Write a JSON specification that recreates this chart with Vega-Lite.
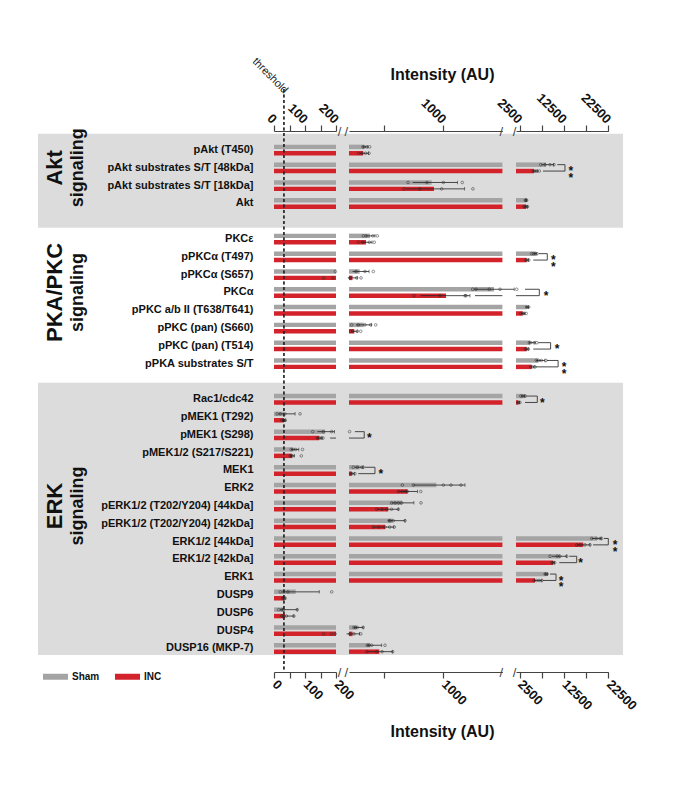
{
"$schema":"https://vega.github.io/schema/vega-lite/v6.json",
"width":585,"height":541,
"autosize":{"type":"none"},
"padding":{"left":38,"top":131,"right":66,"bottom":116},
"background":"white",
"config":{"view":{"stroke":null},"font":"Liberation Sans"},
"datasets":{
"sec":[{"s":"Akt","from":"pAkt (T450)","to":" "},{"s":"ERK","from":"Rac1/cdc42","to":"DUSP16 (MKP-7)"}],
"thr":[{"t":32}],
"bars":[
{"p":"pAkt (T450)","g":"Sham","v":330,"lo":315,"hi":360},
{"p":"pAkt (T450)","g":"INC","v":320,"lo":290,"hi":365},
{"p":"pAkt substrates S/T [48kDa]","g":"Sham","v":8460,"lo":7400,"hi":10200},
{"p":"pAkt substrates S/T [48kDa]","g":"INC","v":5760,"lo":5500,"hi":6600},
{"p":"pAkt substrates S/T [18kDa]","g":"Sham","v":900,"lo":740,"hi":1120},
{"p":"pAkt substrates S/T [18kDa]","g":"INC","v":920,"lo":680,"hi":1180},
{"p":"Akt","g":"Sham","v":3950,"lo":3800,"hi":4100},
{"p":"Akt","g":"INC","v":3950,"lo":3600,"hi":4300},
{"p":"PKCε","g":"Sham","v":378,"lo":340,"hi":420},
{"p":"PKCε","g":"INC","v":344,"lo":300,"hi":395},
{"p":"pPKCα (T497)","g":"Sham","v":6140,"lo":5600,"hi":6400},
{"p":"pPKCα (T497)","g":"INC","v":4100,"lo":3900,"hi":4500},
{"p":"pPKCα (S657)","g":"Sham","v":290,"lo":230,"hi":370},
{"p":"pPKCα (S657)","g":"INC","v":230,"lo":190,"hi":270},
{"p":"PKCα","g":"Sham","v":1429,"lo":1260,"hi":1600},
{"p":"PKCα","g":"INC","v":1022,"lo":807,"hi":1225},
{"p":"pPKC a/b II (T638/T641)","g":"Sham","v":4110,"lo":3950,"hi":4500},
{"p":"pPKC a/b II (T638/T641)","g":"INC","v":3210,"lo":2900,"hi":3700},
{"p":"pPKC (pan) (S660)","g":"Sham","v":325,"lo":260,"hi":390},
{"p":"pPKC (pan) (S660)","g":"INC","v":245,"lo":220,"hi":270},
{"p":"pPKC (pan) (T514)","g":"Sham","v":4855,"lo":4600,"hi":6000},
{"p":"pPKC (pan) (T514)","g":"INC","v":4110,"lo":3900,"hi":4500},
{"p":"pPKA substrates S/T","g":"Sham","v":6720,"lo":6200,"hi":8200},
{"p":"pPKA substrates S/T","g":"INC","v":5240,"lo":5000,"hi":5800},
{"p":"Rac1/cdc42","g":"Sham","v":3210,"lo":2900,"hi":3700},
{"p":"Rac1/cdc42","g":"INC","v":2220,"lo":2100,"hi":2500},
{"p":"pMEK1 (T292)","g":"Sham","v":32,"lo":15,"hi":68},
{"p":"pMEK1 (T292)","g":"INC","v":32,"lo":26,"hi":38},
{"p":"pMEK1 (S298)","g":"Sham","v":165,"lo":140,"hi":195},
{"p":"pMEK1 (S298)","g":"INC","v":146,"lo":138,"hi":155},
{"p":"pMEK1/2 (S217/S221)","g":"Sham","v":62,"lo":55,"hi":80},
{"p":"pMEK1/2 (S217/S221)","g":"INC","v":58,"lo":52,"hi":66},
{"p":"MEK1","g":"Sham","v":290,"lo":250,"hi":320},
{"p":"MEK1","g":"INC","v":223,"lo":210,"hi":245},
{"p":"ERK2","g":"Sham","v":940,"lo":745,"hi":1183},
{"p":"ERK2","g":"INC","v":697,"lo":620,"hi":780},
{"p":"pERK1/2 (T202/Y204) [44kDa]","g":"Sham","v":650,"lo":560,"hi":750},
{"p":"pERK1/2 (T202/Y204) [44kDa]","g":"INC","v":533,"lo":435,"hi":618},
{"p":"pERK1/2 (T202/Y204) [42kDa]","g":"Sham","v":570,"lo":530,"hi":675},
{"p":"pERK1/2 (T202/Y204) [42kDa]","g":"INC","v":505,"lo":406,"hi":580},
{"p":"ERK1/2 [44kDa]","g":"Sham","v":19890,"lo":18760,"hi":20900},
{"p":"ERK1/2 [44kDa]","g":"INC","v":16870,"lo":15380,"hi":18380},
{"p":"ERK1/2 [42kDa]","g":"Sham","v":11620,"lo":9800,"hi":13130},
{"p":"ERK1/2 [42kDa]","g":"INC","v":10060,"lo":9800,"hi":10400},
{"p":"ERK1","g":"Sham","v":8460,"lo":8200,"hi":8800},
{"p":"ERK1","g":"INC","v":5980,"lo":5760,"hi":7500},
{"p":"DUSP9","g":"Sham","v":70,"lo":30,"hi":146},
{"p":"DUSP9","g":"INC","v":32,"lo":28,"hi":36},
{"p":"DUSP6","g":"Sham","v":30,"lo":20,"hi":75},
{"p":"DUSP6","g":"INC","v":35,"lo":25,"hi":64},
{"p":"DUSP4","g":"Sham","v":265,"lo":240,"hi":320},
{"p":"DUSP4","g":"INC","v":230,"lo":180,"hi":290},
{"p":"DUSP16 (MKP-7)","g":"Sham","v":380,"lo":350,"hi":477},
{"p":"DUSP16 (MKP-7)","g":"INC","v":457,"lo":350,"hi":570}
],
"pts":[
{"p":"pAkt (T450)","g":"Sham","v":318},{"p":"pAkt (T450)","g":"Sham","v":330},{"p":"pAkt (T450)","g":"Sham","v":350},{"p":"pAkt (T450)","g":"Sham","v":375},
{"p":"pAkt (T450)","g":"INC","v":280},{"p":"pAkt (T450)","g":"INC","v":310},{"p":"pAkt (T450)","g":"INC","v":340},{"p":"pAkt (T450)","g":"INC","v":370},
{"p":"pAkt substrates S/T [48kDa]","g":"Sham","v":7270},{"p":"pAkt substrates S/T [48kDa]","g":"Sham","v":8240},{"p":"pAkt substrates S/T [48kDa]","g":"Sham","v":9360},{"p":"pAkt substrates S/T [48kDa]","g":"Sham","v":10260},
{"p":"pAkt substrates S/T [48kDa]","g":"INC","v":5600},{"p":"pAkt substrates S/T [48kDa]","g":"INC","v":5980},{"p":"pAkt substrates S/T [48kDa]","g":"INC","v":6370},{"p":"pAkt substrates S/T [48kDa]","g":"INC","v":6960},
{"p":"pAkt substrates S/T [18kDa]","g":"Sham","v":700},{"p":"pAkt substrates S/T [18kDa]","g":"Sham","v":860},{"p":"pAkt substrates S/T [18kDa]","g":"Sham","v":1000},{"p":"pAkt substrates S/T [18kDa]","g":"Sham","v":1160},
{"p":"pAkt substrates S/T [18kDa]","g":"INC","v":665},{"p":"pAkt substrates S/T [18kDa]","g":"INC","v":800},{"p":"pAkt substrates S/T [18kDa]","g":"INC","v":985},{"p":"pAkt substrates S/T [18kDa]","g":"INC","v":1250},
{"p":"Akt","g":"Sham","v":3800},{"p":"Akt","g":"Sham","v":3950},{"p":"Akt","g":"Sham","v":4100},
{"p":"Akt","g":"INC","v":3500},{"p":"Akt","g":"INC","v":3800},{"p":"Akt","g":"INC","v":4100},{"p":"Akt","g":"INC","v":4300},
{"p":"PKCε","g":"Sham","v":321},{"p":"PKCε","g":"Sham","v":344},{"p":"PKCε","g":"Sham","v":401},{"p":"PKCε","g":"Sham","v":440},
{"p":"PKCε","g":"INC","v":279},{"p":"PKCε","g":"INC","v":316},{"p":"PKCε","g":"INC","v":372},{"p":"PKCε","g":"INC","v":414},
{"p":"pPKCα (T497)","g":"Sham","v":5200},{"p":"pPKCα (T497)","g":"Sham","v":5600},{"p":"pPKCα (T497)","g":"Sham","v":6000},{"p":"pPKCα (T497)","g":"Sham","v":6400},
{"p":"pPKCα (T497)","g":"INC","v":3900},{"p":"pPKCα (T497)","g":"INC","v":4200},{"p":"pPKCα (T497)","g":"INC","v":4600},
{"p":"pPKCα (S657)","g":"Sham","v":198},{"p":"pPKCα (S657)","g":"Sham","v":259},{"p":"pPKCα (S657)","g":"Sham","v":335},{"p":"pPKCα (S657)","g":"Sham","v":406},
{"p":"pPKCα (S657)","g":"INC","v":160},{"p":"pPKCα (S657)","g":"INC","v":190},{"p":"pPKCα (S657)","g":"INC","v":210},{"p":"pPKCα (S657)","g":"INC","v":265},{"p":"pPKCα (S657)","g":"INC","v":302},
{"p":"PKCα","g":"Sham","v":1248},{"p":"PKCα","g":"Sham","v":1276},{"p":"PKCα","g":"Sham","v":1389},{"p":"PKCα","g":"Sham","v":1480},{"p":"PKCα","g":"Sham","v":1860},
{"p":"PKCα","g":"INC","v":751},{"p":"PKCα","g":"INC","v":971},{"p":"PKCα","g":"INC","v":1183},{"p":"PKCα","g":"INC","v":1191},
{"p":"pPKC a/b II (T638/T641)","g":"Sham","v":4100},{"p":"pPKC a/b II (T638/T641)","g":"Sham","v":4300},{"p":"pPKC a/b II (T638/T641)","g":"Sham","v":4560},
{"p":"pPKC a/b II (T638/T641)","g":"INC","v":2800},{"p":"pPKC a/b II (T638/T641)","g":"INC","v":3200},{"p":"pPKC a/b II (T638/T641)","g":"INC","v":3500},{"p":"pPKC a/b II (T638/T641)","g":"INC","v":4000},
{"p":"pPKC (pan) (S660)","g":"Sham","v":223},{"p":"pPKC (pan) (S660)","g":"Sham","v":279},{"p":"pPKC (pan) (S660)","g":"Sham","v":335},{"p":"pPKC (pan) (S660)","g":"Sham","v":383},{"p":"pPKC (pan) (S660)","g":"Sham","v":426},
{"p":"pPKC (pan) (S660)","g":"INC","v":214},{"p":"pPKC (pan) (S660)","g":"INC","v":231},{"p":"pPKC (pan) (S660)","g":"INC","v":270},{"p":"pPKC (pan) (S660)","g":"INC","v":299},
{"p":"pPKC (pan) (T514)","g":"Sham","v":4700},{"p":"pPKC (pan) (T514)","g":"Sham","v":5000},{"p":"pPKC (pan) (T514)","g":"Sham","v":5800},{"p":"pPKC (pan) (T514)","g":"Sham","v":6400},
{"p":"pPKC (pan) (T514)","g":"INC","v":3800},{"p":"pPKC (pan) (T514)","g":"INC","v":4100},{"p":"pPKC (pan) (T514)","g":"INC","v":4500},
{"p":"pPKA substrates S/T","g":"Sham","v":6300},{"p":"pPKA substrates S/T","g":"Sham","v":6800},{"p":"pPKA substrates S/T","g":"Sham","v":7400},{"p":"pPKA substrates S/T","g":"Sham","v":8460},
{"p":"pPKA substrates S/T","g":"INC","v":5000},{"p":"pPKA substrates S/T","g":"INC","v":5400},{"p":"pPKA substrates S/T","g":"INC","v":5980},
{"p":"Rac1/cdc42","g":"Sham","v":2800},{"p":"Rac1/cdc42","g":"Sham","v":3200},{"p":"Rac1/cdc42","g":"Sham","v":3500},{"p":"Rac1/cdc42","g":"Sham","v":3800},
{"p":"Rac1/cdc42","g":"INC","v":2100},{"p":"Rac1/cdc42","g":"INC","v":2300},{"p":"Rac1/cdc42","g":"INC","v":2600},
{"p":"pMEK1 (T292)","g":"Sham","v":10},{"p":"pMEK1 (T292)","g":"Sham","v":20},{"p":"pMEK1 (T292)","g":"Sham","v":35},{"p":"pMEK1 (T292)","g":"Sham","v":84},
{"p":"pMEK1 (T292)","g":"INC","v":25},{"p":"pMEK1 (T292)","g":"INC","v":30},{"p":"pMEK1 (T292)","g":"INC","v":36},
{"p":"pMEK1 (S298)","g":"Sham","v":125},{"p":"pMEK1 (S298)","g":"Sham","v":159},{"p":"pMEK1 (S298)","g":"Sham","v":186},{"p":"pMEK1 (S298)","g":"Sham","v":205},
{"p":"pMEK1 (S298)","g":"INC","v":140},{"p":"pMEK1 (S298)","g":"INC","v":146},{"p":"pMEK1 (S298)","g":"INC","v":152},{"p":"pMEK1 (S298)","g":"INC","v":158},
{"p":"pMEK1/2 (S217/S221)","g":"Sham","v":55},{"p":"pMEK1/2 (S217/S221)","g":"Sham","v":62},{"p":"pMEK1/2 (S217/S221)","g":"Sham","v":70},{"p":"pMEK1/2 (S217/S221)","g":"Sham","v":92},
{"p":"pMEK1/2 (S217/S221)","g":"INC","v":52},{"p":"pMEK1/2 (S217/S221)","g":"INC","v":56},{"p":"pMEK1/2 (S217/S221)","g":"INC","v":60},{"p":"pMEK1/2 (S217/S221)","g":"INC","v":88},
{"p":"MEK1","g":"Sham","v":236},{"p":"MEK1","g":"Sham","v":270},{"p":"MEK1","g":"Sham","v":307},{"p":"MEK1","g":"Sham","v":320},
{"p":"MEK1","g":"INC","v":214},{"p":"MEK1","g":"INC","v":225},{"p":"MEK1","g":"INC","v":250},
{"p":"ERK2","g":"Sham","v":652},{"p":"ERK2","g":"Sham","v":745},{"p":"ERK2","g":"Sham","v":1000},{"p":"ERK2","g":"Sham","v":1064},{"p":"ERK2","g":"Sham","v":1149},
{"p":"ERK2","g":"INC","v":618},{"p":"ERK2","g":"INC","v":650},{"p":"ERK2","g":"INC","v":680},{"p":"ERK2","g":"INC","v":694},{"p":"ERK2","g":"INC","v":808},
{"p":"pERK1/2 (T202/Y204) [44kDa]","g":"Sham","v":561},{"p":"pERK1/2 (T202/Y204) [44kDa]","g":"Sham","v":590},{"p":"pERK1/2 (T202/Y204) [44kDa]","g":"Sham","v":618},{"p":"pERK1/2 (T202/Y204) [44kDa]","g":"Sham","v":646},{"p":"pERK1/2 (T202/Y204) [44kDa]","g":"Sham","v":810},
{"p":"pERK1/2 (T202/Y204) [44kDa]","g":"INC","v":435},{"p":"pERK1/2 (T202/Y204) [44kDa]","g":"INC","v":480},{"p":"pERK1/2 (T202/Y204) [44kDa]","g":"INC","v":519},{"p":"pERK1/2 (T202/Y204) [44kDa]","g":"INC","v":560},{"p":"pERK1/2 (T202/Y204) [44kDa]","g":"INC","v":618},
{"p":"pERK1/2 (T202/Y204) [42kDa]","g":"Sham","v":540},{"p":"pERK1/2 (T202/Y204) [42kDa]","g":"Sham","v":550},{"p":"pERK1/2 (T202/Y204) [42kDa]","g":"Sham","v":575},{"p":"pERK1/2 (T202/Y204) [42kDa]","g":"Sham","v":675},
{"p":"pERK1/2 (T202/Y204) [42kDa]","g":"INC","v":406},{"p":"pERK1/2 (T202/Y204) [42kDa]","g":"INC","v":450},{"p":"pERK1/2 (T202/Y204) [42kDa]","g":"INC","v":505},{"p":"pERK1/2 (T202/Y204) [42kDa]","g":"INC","v":545},{"p":"pERK1/2 (T202/Y204) [42kDa]","g":"INC","v":584},
{"p":"ERK1/2 [44kDa]","g":"Sham","v":18760},{"p":"ERK1/2 [44kDa]","g":"Sham","v":19890},{"p":"ERK1/2 [44kDa]","g":"Sham","v":20630},{"p":"ERK1/2 [44kDa]","g":"Sham","v":21000},
{"p":"ERK1/2 [44kDa]","g":"INC","v":15380},{"p":"ERK1/2 [44kDa]","g":"INC","v":16200},{"p":"ERK1/2 [44kDa]","g":"INC","v":17250},{"p":"ERK1/2 [44kDa]","g":"INC","v":18380},
{"p":"ERK1/2 [42kDa]","g":"Sham","v":9360},{"p":"ERK1/2 [42kDa]","g":"Sham","v":11000},{"p":"ERK1/2 [42kDa]","g":"Sham","v":11620},{"p":"ERK1/2 [42kDa]","g":"Sham","v":13130},
{"p":"ERK1/2 [42kDa]","g":"INC","v":9800},{"p":"ERK1/2 [42kDa]","g":"INC","v":10100},{"p":"ERK1/2 [42kDa]","g":"INC","v":10400},
{"p":"ERK1","g":"Sham","v":8240},{"p":"ERK1","g":"Sham","v":8460},{"p":"ERK1","g":"Sham","v":8700},
{"p":"ERK1","g":"INC","v":5760},{"p":"ERK1","g":"INC","v":6300},{"p":"ERK1","g":"INC","v":6900},{"p":"ERK1","g":"INC","v":7500},
{"p":"DUSP9","g":"Sham","v":20},{"p":"DUSP9","g":"Sham","v":30},{"p":"DUSP9","g":"Sham","v":45},{"p":"DUSP9","g":"Sham","v":186},
{"p":"DUSP9","g":"INC","v":28},{"p":"DUSP9","g":"INC","v":32},{"p":"DUSP9","g":"INC","v":36},
{"p":"DUSP6","g":"Sham","v":15},{"p":"DUSP6","g":"Sham","v":25},{"p":"DUSP6","g":"Sham","v":30},{"p":"DUSP6","g":"Sham","v":75},
{"p":"DUSP6","g":"INC","v":25},{"p":"DUSP6","g":"INC","v":30},{"p":"DUSP6","g":"INC","v":40},{"p":"DUSP6","g":"INC","v":64},
{"p":"DUSP4","g":"Sham","v":240},{"p":"DUSP4","g":"Sham","v":255},{"p":"DUSP4","g":"Sham","v":270},{"p":"DUSP4","g":"Sham","v":320},
{"p":"DUSP4","g":"INC","v":160},{"p":"DUSP4","g":"INC","v":185},{"p":"DUSP4","g":"INC","v":197},{"p":"DUSP4","g":"INC","v":208},{"p":"DUSP4","g":"INC","v":242},{"p":"DUSP4","g":"INC","v":300},
{"p":"DUSP16 (MKP-7)","g":"Sham","v":355},{"p":"DUSP16 (MKP-7)","g":"Sham","v":370},{"p":"DUSP16 (MKP-7)","g":"Sham","v":392},{"p":"DUSP16 (MKP-7)","g":"Sham","v":505},
{"p":"DUSP16 (MKP-7)","g":"INC","v":350},{"p":"DUSP16 (MKP-7)","g":"INC","v":435},{"p":"DUSP16 (MKP-7)","g":"INC","v":480},{"p":"DUSP16 (MKP-7)","g":"INC","v":570}
],
"brk":[
{"p":"pAkt substrates S/T [48kDa]","g":"Sham","x":11000,"xb":12740},
{"p":"pAkt substrates S/T [48kDa]","g":"INC","x":7780,"xb":12740},
{"p":"pPKCα (T497)","g":"Sham","x":6800,"xb":8750},
{"p":"pPKCα (T497)","g":"INC","x":5600,"xb":8750},
{"p":"PKCα","g":"Sham","x":3730,"xb":6950},
{"p":"PKCα","g":"INC","x":1268,"xb":6950},
{"p":"pPKC (pan) (T514)","g":"Sham","x":6720,"xb":9500},
{"p":"pPKC (pan) (T514)","g":"INC","x":5600,"xb":9500},
{"p":"pPKA substrates S/T","g":"Sham","x":8620,"xb":11190},
{"p":"pPKA substrates S/T","g":"INC","x":5980,"xb":11190},
{"p":"Rac1/cdc42","g":"Sham","x":4110,"xb":6500},
{"p":"Rac1/cdc42","g":"INC","x":3730,"xb":6500},
{"p":"pMEK1 (S298)","g":"Sham","x":250,"xb":329},
{"p":"pMEK1 (S298)","g":"INC","x":181,"xb":329},
{"p":"MEK1","g":"Sham","x":335,"xb":420},
{"p":"MEK1","g":"INC","x":279,"xb":420},
{"p":"ERK1/2 [44kDa]","g":"Sham","x":21530,"xb":22730},
{"p":"ERK1/2 [44kDa]","g":"INC","x":19080,"xb":22730},
{"p":"ERK1/2 [42kDa]","g":"Sham","x":13720,"xb":15380},
{"p":"ERK1/2 [42kDa]","g":"INC","x":11460,"xb":15380},
{"p":"ERK1","g":"Sham","x":9360,"xb":10720},
{"p":"ERK1","g":"INC","x":7720,"xb":10720}
],
"sig":[
{"p":"pAkt substrates S/T [48kDa]","x":14030,"s":"**"},
{"p":"pPKCα (T497)","x":10110,"s":"**"},
{"p":"PKCα","x":8460,"s":"*"},
{"p":"pPKC (pan) (T514)","x":10960,"s":"*"},
{"p":"pPKA substrates S/T","x":12520,"s":"**"},
{"p":"Rac1/cdc42","x":7630,"s":"*"},
{"p":"pMEK1 (S298)","x":372,"s":"*"},
{"p":"MEK1","x":469,"s":"*"},
{"p":"ERK1/2 [44kDa]","x":24050,"s":"**"},
{"p":"ERK1/2 [42kDa]","x":16280,"s":"*"},
{"p":"ERK1","x":11840,"s":"**"}
]
},
"resolve":{"scale":{"x":"independent","y":"independent"},"axis":{"x":"independent","y":"independent"}},
"layer":[
{"data":{"name":"sec"},"mark":{"type":"rect","color":"#dcdcdc","yOffset":-7.5,"y2Offset":6.5},
 "encoding":{"y":{"field":"from","type":"nominal","bandPosition":0,"scale":{"domain":["pAkt (T450)","pAkt substrates S/T [48kDa]","pAkt substrates S/T [18kDa]","Akt"," ","PKCε","pPKCα (T497)","pPKCα (S657)","PKCα","pPKC a/b II (T638/T641)","pPKC (pan) (S660)","pPKC (pan) (T514)","pPKA substrates S/T","  ","Rac1/cdc42","pMEK1 (T292)","pMEK1 (S298)","pMEK1/2 (S217/S221)","MEK1","ERK2","pERK1/2 (T202/Y204) [44kDa]","pERK1/2 (T202/Y204) [42kDa]","ERK1/2 [44kDa]","ERK1/2 [42kDa]","ERK1","DUSP9","DUSP6","DUSP4","DUSP16 (MKP-7)"],"paddingInner":0,"paddingOuter":0.697,"align":0.41},"axis":null},
 "y2":{"field":"to"}}},
{"encoding":{"y":{"field":"p","type":"nominal","scale":{"domain":["pAkt (T450)","pAkt substrates S/T [48kDa]","pAkt substrates S/T [18kDa]","Akt"," ","PKCε","pPKCα (T497)","pPKCα (S657)","PKCα","pPKC a/b II (T638/T641)","pPKC (pan) (S660)","pPKC (pan) (T514)","pPKA substrates S/T","  ","Rac1/cdc42","pMEK1 (T292)","pMEK1 (S298)","pMEK1/2 (S217/S221)","MEK1","ERK2","pERK1/2 (T202/Y204) [44kDa]","pERK1/2 (T202/Y204) [42kDa]","ERK1/2 [44kDa]","ERK1/2 [42kDa]","ERK1","DUSP9","DUSP6","DUSP4","DUSP16 (MKP-7)"],"paddingInner":0,"paddingOuter":0.697,"align":0.41},
  "axis":{"orient":"left","offset":-215,"ticks":false,"tickSize":0,"domain":false,"grid":false,"labelPadding":0,"labelFont":"Liberation Sans","labelFontSize":11,"labelFontWeight":"bold","labelColor":"#111","labelLimit":260,"labelOverlap":false,"labelBaseline":"middle","labelAlign":"right","title":null,"zindex":1}}},
 "layer":[
  {"data":{"name":"bars"},"mark":{"type":"bar"},
   "encoding":{"x":{"field":"v","type":"quantitative","stack":null,"scale":{"domain":[0,200],"range":[236,298],"clamp":true,"zero":false,"nice":false},
     "axis":{"orient":"bottom","values":[0,50,100,150,200],"labelExpr":"datum.value % 100 == 0 ? datum.label : ''","title":null,"grid":false,"domainColor":"#444","tickColor":"#444","domainWidth":1.2,"tickWidth":1.2,"tickSize":6,"labelFont":"Liberation Sans","labelFontSize":13,"labelFontWeight":"bold","labelColor":"#111","labelAngle":45,"labelAlign":"left","labelBaseline":"middle","labelOverlap":false,"labelFlush":false,"labelPadding":4,"format":"d","zindex":1}},
    "yOffset":{"field":"g","type":"nominal","scale":{"domain":["Sham","INC"],"paddingInner":0.3,"paddingOuter":0.54}},
    "color":{"field":"g","type":"nominal","scale":{"domain":["Sham","INC"],"range":["#a4a4a4","#d3222a"]},
     "legend":{"title":null,"orient":"none","legendX":5,"legendY":533,"direction":"horizontal","symbolType":"M-1,-0.24H1V0.24H-1Z","symbolSize":625,"symbolStrokeWidth":0,"labelFont":"Liberation Sans","labelFontSize":10,"labelFontWeight":"bold","labelColor":"#111","labelOffset":4,"columnPadding":15,"padding":0}}}},
  {"data":{"name":"brk"},"transform":[{"filter":"datum.x < 200"}],"mark":{"type":"rule","color":"#333","strokeWidth":0.9},
   "encoding":{"x":{"field":"x","type":"quantitative","scale":{"domain":[0,200],"range":[236,298],"clamp":true,"zero":false,"nice":false}},"x2":{"field":"xb"},
    "yOffset":{"field":"g","type":"nominal","scale":{"domain":["Sham","INC"],"paddingInner":0.3,"paddingOuter":0.54}}}}
 ]},
{"encoding":{"y":{"field":"p","type":"nominal","scale":{"domain":["pAkt (T450)","pAkt substrates S/T [48kDa]","pAkt substrates S/T [18kDa]","Akt"," ","PKCε","pPKCα (T497)","pPKCα (S657)","PKCα","pPKC a/b II (T638/T641)","pPKC (pan) (S660)","pPKC (pan) (T514)","pPKA substrates S/T","  ","Rac1/cdc42","pMEK1 (T292)","pMEK1 (S298)","pMEK1/2 (S217/S221)","MEK1","ERK2","pERK1/2 (T202/Y204) [44kDa]","pERK1/2 (T202/Y204) [42kDa]","ERK1/2 [44kDa]","ERK1/2 [42kDa]","ERK1","DUSP9","DUSP6","DUSP4","DUSP16 (MKP-7)"],"paddingInner":0,"paddingOuter":0.697,"align":0.41},"axis":null}},
 "layer":[
  {"data":{"name":"bars"},"transform":[{"filter":"datum.v < 200"}],"mark":{"type":"rule","color":"#222","strokeWidth":0.8},
   "encoding":{"x":{"field":"lo","type":"quantitative","scale":{"domain":[0,200],"range":[236,298],"zero":false,"nice":false},
     "axis":{"orient":"top","values":[0,50,100,150,200],"labelExpr":"datum.value % 100 == 0 ? datum.label : ''","title":null,"grid":false,"domainColor":"#444","tickColor":"#444","domainWidth":1.2,"tickWidth":1.2,"tickSize":6,"labelFont":"Liberation Sans","labelFontSize":13,"labelFontWeight":"bold","labelColor":"#111","labelAngle":45,"labelAlign":"right","labelBaseline":"middle","labelOverlap":false,"labelFlush":false,"labelPadding":4,"format":"d","zindex":1}},
    "x2":{"field":"hi"},
    "yOffset":{"field":"g","type":"nominal","scale":{"domain":["Sham","INC"],"paddingInner":0.3,"paddingOuter":0.54}}}},
  {"data":{"name":"bars"},"transform":[{"filter":"datum.v < 200"}],"mark":{"type":"tick","orient":"vertical","size":3.5,"thickness":0.8,"color":"#222"},
   "encoding":{"x":{"field":"hi","type":"quantitative","scale":{"domain":[0,200],"range":[236,298],"zero":false,"nice":false}},
    "yOffset":{"field":"g","type":"nominal","scale":{"domain":["Sham","INC"],"paddingInner":0.3,"paddingOuter":0.54}}}},
  {"data":{"name":"pts"},"transform":[{"filter":"datum.v < 200"}],"mark":{"type":"point","shape":"circle","size":7,"filled":false,"stroke":"#222","strokeWidth":0.7},
   "encoding":{"x":{"field":"v","type":"quantitative","scale":{"domain":[0,200],"range":[236,298],"zero":false,"nice":false}},
    "yOffset":{"field":"g","type":"nominal","scale":{"domain":["Sham","INC"],"paddingInner":0.3,"paddingOuter":0.54}}}}
 ]},
{"encoding":{"y":{"field":"p","type":"nominal","scale":{"domain":["pAkt (T450)","pAkt substrates S/T [48kDa]","pAkt substrates S/T [18kDa]","Akt"," ","PKCε","pPKCα (T497)","pPKCα (S657)","PKCα","pPKC a/b II (T638/T641)","pPKC (pan) (S660)","pPKC (pan) (T514)","pPKA substrates S/T","  ","Rac1/cdc42","pMEK1 (T292)","pMEK1 (S298)","pMEK1/2 (S217/S221)","MEK1","ERK2","pERK1/2 (T202/Y204) [44kDa]","pERK1/2 (T202/Y204) [42kDa]","ERK1/2 [44kDa]","ERK1/2 [42kDa]","ERK1","DUSP9","DUSP6","DUSP4","DUSP16 (MKP-7)"],"paddingInner":0,"paddingOuter":0.697,"align":0.41},
  "axis":{"orient":"left","offset":-16.5,"values":["pAkt substrates S/T [48kDa]","PKCα","pERK1/2 (T202/Y204) [44kDa]"],"bandPosition":1,"labelExpr":"datum.value == 'PKCα' ? 'PKA/PKC' : (datum.value == 'Akt' || datum.value == 'pAkt substrates S/T [48kDa]') ? 'Akt' : 'ERK'","labelAngle":270,"labelAlign":"center","labelBaseline":"middle","labelFont":"Liberation Sans","labelFontSize":22,"labelFontWeight":"bold","labelColor":"#111","ticks":false,"tickSize":0,"domain":false,"grid":false,"labelPadding":0,"title":null,"zindex":1,"labelOverlap":false,"labelBound":false}}},
 "layer":[
  {"data":{"name":"bars"},"transform":[{"filter":"datum.v > 200"}],"mark":{"type":"bar"},
   "encoding":{"x":{"field":"v","type":"quantitative","stack":null,"scale":{"domain":[200,1500],"range":[311,464.4],"clamp":true,"zero":false,"nice":false},
     "axis":{"orient":"bottom","values":[500,1000],"labelExpr":"datum.value == 1000 ? datum.label : ''","title":"Intensity (AU)","titleX":404,"titleY":59,"titleFont":"Liberation Sans","titleFontSize":16,"titleFontWeight":"bold","titleColor":"#111","titleAlign":"center","titleBaseline":"middle","titleAngle":0,"grid":false,"domainColor":"#444","tickColor":"#444","domainWidth":1.2,"tickWidth":1.2,"tickSize":6,"labelFont":"Liberation Sans","labelFontSize":13,"labelFontWeight":"bold","labelColor":"#111","labelAngle":45,"labelAlign":"left","labelBaseline":"middle","labelOverlap":false,"labelFlush":false,"labelPadding":4,"format":"d","zindex":1}},
    "yOffset":{"field":"g","type":"nominal","scale":{"domain":["Sham","INC"],"paddingInner":0.3,"paddingOuter":0.54}},
    "color":{"field":"g","type":"nominal","scale":{"domain":["Sham","INC"],"range":["#a4a4a4","#d3222a"]},
     "legend":{"title":null,"orient":"none","legendX":5,"legendY":533,"direction":"horizontal","symbolType":"M-1,-0.24H1V0.24H-1Z","symbolSize":625,"symbolStrokeWidth":0,"labelFont":"Liberation Sans","labelFontSize":10,"labelFontWeight":"bold","labelColor":"#111","labelOffset":4,"columnPadding":15,"padding":0}}}},
  {"data":{"name":"brk"},"transform":[{"filter":"datum.x < 1500 && datum.xb > 200"}],"mark":{"type":"rule","color":"#333","strokeWidth":0.9},
   "encoding":{"x":{"field":"x","type":"quantitative","scale":{"domain":[200,1500],"range":[311,464.4],"clamp":true,"zero":false,"nice":false}},"x2":{"field":"xb"},
    "yOffset":{"field":"g","type":"nominal","scale":{"domain":["Sham","INC"],"paddingInner":0.3,"paddingOuter":0.54}}}},
  {"data":{"name":"brk"},"transform":[{"filter":"datum.g == 'Sham' && datum.xb > 200 && datum.xb <= 1500"}],"mark":{"type":"rule","color":"#333","strokeWidth":0.9,"yOffset":-3.2,"y2Offset":3.2},
   "encoding":{"x":{"field":"xb","type":"quantitative","scale":{"domain":[200,1500],"range":[311,464.4],"clamp":true,"zero":false,"nice":false}},"y2":{"field":"p"}}}
 ]},
{"encoding":{"y":{"field":"p","type":"nominal","scale":{"domain":["pAkt (T450)","pAkt substrates S/T [48kDa]","pAkt substrates S/T [18kDa]","Akt"," ","PKCε","pPKCα (T497)","pPKCα (S657)","PKCα","pPKC a/b II (T638/T641)","pPKC (pan) (S660)","pPKC (pan) (T514)","pPKA substrates S/T","  ","Rac1/cdc42","pMEK1 (T292)","pMEK1 (S298)","pMEK1/2 (S217/S221)","MEK1","ERK2","pERK1/2 (T202/Y204) [44kDa]","pERK1/2 (T202/Y204) [42kDa]","ERK1/2 [44kDa]","ERK1/2 [42kDa]","ERK1","DUSP9","DUSP6","DUSP4","DUSP16 (MKP-7)"],"paddingInner":0,"paddingOuter":0.697,"align":0.41},"axis":null}},
 "layer":[
  {"data":{"name":"bars"},"transform":[{"filter":"datum.v >= 200 && datum.v < 1600"}],"mark":{"type":"rule","color":"#222","strokeWidth":0.8},
   "encoding":{"x":{"field":"lo","type":"quantitative","scale":{"domain":[200,1500],"range":[311,464.4],"zero":false,"nice":false},
     "axis":{"orient":"top","values":[500,1000],"labelExpr":"datum.value == 1000 ? datum.label : ''","title":"Intensity (AU)","titleX":404,"titleY":-57,"titleFont":"Liberation Sans","titleFontSize":16,"titleFontWeight":"bold","titleColor":"#111","titleAlign":"center","titleBaseline":"middle","titleAngle":0,"grid":false,"domainColor":"#444","tickColor":"#444","domainWidth":1.2,"tickWidth":1.2,"tickSize":6,"labelFont":"Liberation Sans","labelFontSize":13,"labelFontWeight":"bold","labelColor":"#111","labelAngle":45,"labelAlign":"right","labelBaseline":"middle","labelOverlap":false,"labelFlush":false,"labelPadding":4,"format":"d","zindex":1}},
    "x2":{"field":"hi"},
    "yOffset":{"field":"g","type":"nominal","scale":{"domain":["Sham","INC"],"paddingInner":0.3,"paddingOuter":0.54}}}},
  {"data":{"name":"bars"},"transform":[{"filter":"datum.v >= 200 && datum.v < 1600"}],"mark":{"type":"tick","orient":"vertical","size":3.5,"thickness":0.8,"color":"#222"},
   "encoding":{"x":{"field":"hi","type":"quantitative","scale":{"domain":[200,1500],"range":[311,464.4],"zero":false,"nice":false}},
    "yOffset":{"field":"g","type":"nominal","scale":{"domain":["Sham","INC"],"paddingInner":0.3,"paddingOuter":0.54}}}},
  {"data":{"name":"pts"},"transform":[{"filter":"datum.v >= 200 && datum.v < 1600"}],"mark":{"type":"point","shape":"circle","size":7,"filled":false,"stroke":"#222","strokeWidth":0.7},
   "encoding":{"x":{"field":"v","type":"quantitative","scale":{"domain":[200,1500],"range":[311,464.4],"zero":false,"nice":false}},
    "yOffset":{"field":"g","type":"nominal","scale":{"domain":["Sham","INC"],"paddingInner":0.3,"paddingOuter":0.54}}}},
  {"data":{"name":"sig"},"transform":[{"filter":"datum.x >= 200 && datum.x < 1600"}],"mark":{"type":"text","text":"*","font":"Liberation Sans","fontSize":12,"fontWeight":"bold","color":"#111","align":"center","baseline":"middle","dy":3.5},
   "encoding":{"x":{"field":"x","type":"quantitative","scale":{"domain":[200,1500],"range":[311,464.4],"zero":false,"nice":false}}}}
 ]},
{"encoding":{"y":{"field":"p","type":"nominal","scale":{"domain":["pAkt (T450)","pAkt substrates S/T [48kDa]","pAkt substrates S/T [18kDa]","Akt"," ","PKCε","pPKCα (T497)","pPKCα (S657)","PKCα","pPKC a/b II (T638/T641)","pPKC (pan) (S660)","pPKC (pan) (T514)","pPKA substrates S/T","  ","Rac1/cdc42","pMEK1 (T292)","pMEK1 (S298)","pMEK1/2 (S217/S221)","MEK1","ERK2","pERK1/2 (T202/Y204) [44kDa]","pERK1/2 (T202/Y204) [42kDa]","ERK1/2 [44kDa]","ERK1/2 [42kDa]","ERK1","DUSP9","DUSP6","DUSP4","DUSP16 (MKP-7)"],"paddingInner":0,"paddingOuter":0.697,"align":0.41},
  "axis":{"orient":"left","offset":-39,"values":["pAkt substrates S/T [48kDa]","PKCα","pERK1/2 (T202/Y204) [44kDa]"],"bandPosition":1,"labelExpr":"'signaling'","labelAngle":270,"labelAlign":"center","labelBaseline":"middle","labelFont":"Liberation Sans","labelFontSize":18,"labelFontWeight":"bold","labelColor":"#111","ticks":false,"tickSize":0,"domain":false,"grid":false,"labelPadding":0,"title":null,"zindex":1,"labelOverlap":false,"labelBound":false}}},
 "layer":[
  {"data":{"name":"bars"},"transform":[{"filter":"datum.v > 1700"}],"mark":{"type":"bar"},
   "encoding":{"x":{"field":"v","type":"quantitative","stack":null,"scale":{"domain":[1700,22500],"range":[478,570.3],"clamp":true,"zero":false,"nice":false},
     "axis":{"orient":"bottom","values":[2500,7500,12500,17500,22500],"labelExpr":"datum.value % 10000 == 2500 ? datum.label : ''","title":null,"grid":false,"domainColor":"#444","tickColor":"#444","domainWidth":1.2,"tickWidth":1.2,"tickSize":6,"labelFont":"Liberation Sans","labelFontSize":13,"labelFontWeight":"bold","labelColor":"#111","labelAngle":45,"labelAlign":"left","labelBaseline":"middle","labelOverlap":false,"labelFlush":false,"labelPadding":4,"format":"d","zindex":1}},
    "yOffset":{"field":"g","type":"nominal","scale":{"domain":["Sham","INC"],"paddingInner":0.3,"paddingOuter":0.54}},
    "color":{"field":"g","type":"nominal","scale":{"domain":["Sham","INC"],"range":["#a4a4a4","#d3222a"]},
     "legend":{"title":null,"orient":"none","legendX":5,"legendY":533,"direction":"horizontal","symbolType":"M-1,-0.24H1V0.24H-1Z","symbolSize":625,"symbolStrokeWidth":0,"labelFont":"Liberation Sans","labelFontSize":10,"labelFontWeight":"bold","labelColor":"#111","labelOffset":4,"columnPadding":15,"padding":0}}}},
  {"data":{"name":"brk"},"transform":[{"filter":"datum.xb > 1700"}],"mark":{"type":"rule","color":"#333","strokeWidth":0.9},
   "encoding":{"x":{"field":"x","type":"quantitative","scale":{"domain":[1700,22500],"range":[478,570.3],"clamp":true,"zero":false,"nice":false}},"x2":{"field":"xb"},
    "yOffset":{"field":"g","type":"nominal","scale":{"domain":["Sham","INC"],"paddingInner":0.3,"paddingOuter":0.54}}}},
  {"data":{"name":"brk"},"transform":[{"filter":"datum.g == 'Sham' && datum.xb > 1700"}],"mark":{"type":"rule","color":"#333","strokeWidth":0.9,"yOffset":-3.2,"y2Offset":3.2},
   "encoding":{"x":{"field":"xb","type":"quantitative","scale":{"domain":[1700,22500],"range":[478,570.3],"clamp":true,"zero":false,"nice":false}},"y2":{"field":"p"}}}
 ]},
{"encoding":{"y":{"field":"p","type":"nominal","scale":{"domain":["pAkt (T450)","pAkt substrates S/T [48kDa]","pAkt substrates S/T [18kDa]","Akt"," ","PKCε","pPKCα (T497)","pPKCα (S657)","PKCα","pPKC a/b II (T638/T641)","pPKC (pan) (S660)","pPKC (pan) (T514)","pPKA substrates S/T","  ","Rac1/cdc42","pMEK1 (T292)","pMEK1 (S298)","pMEK1/2 (S217/S221)","MEK1","ERK2","pERK1/2 (T202/Y204) [44kDa]","pERK1/2 (T202/Y204) [42kDa]","ERK1/2 [44kDa]","ERK1/2 [42kDa]","ERK1","DUSP9","DUSP6","DUSP4","DUSP16 (MKP-7)"],"paddingInner":0,"paddingOuter":0.697,"align":0.41},"axis":null}},
 "layer":[
  {"data":{"name":"bars"},"transform":[{"filter":"datum.v >= 1600"}],"mark":{"type":"rule","color":"#222","strokeWidth":0.8},
   "encoding":{"x":{"field":"lo","type":"quantitative","scale":{"domain":[1700,22500],"range":[478,570.3],"zero":false,"nice":false},
     "axis":{"orient":"top","values":[2500,7500,12500,17500,22500],"labelExpr":"datum.value % 10000 == 2500 ? datum.label : ''","title":null,"grid":false,"domainColor":"#444","tickColor":"#444","domainWidth":1.2,"tickWidth":1.2,"tickSize":6,"labelFont":"Liberation Sans","labelFontSize":13,"labelFontWeight":"bold","labelColor":"#111","labelAngle":45,"labelAlign":"right","labelBaseline":"middle","labelOverlap":false,"labelFlush":false,"labelPadding":4,"format":"d","zindex":1}},
    "x2":{"field":"hi"},
    "yOffset":{"field":"g","type":"nominal","scale":{"domain":["Sham","INC"],"paddingInner":0.3,"paddingOuter":0.54}}}},
  {"data":{"name":"bars"},"transform":[{"filter":"datum.v >= 1600"}],"mark":{"type":"tick","orient":"vertical","size":3.5,"thickness":0.8,"color":"#222"},
   "encoding":{"x":{"field":"hi","type":"quantitative","scale":{"domain":[1700,22500],"range":[478,570.3],"zero":false,"nice":false}},
    "yOffset":{"field":"g","type":"nominal","scale":{"domain":["Sham","INC"],"paddingInner":0.3,"paddingOuter":0.54}}}},
  {"data":{"name":"pts"},"transform":[{"filter":"datum.v >= 1600"}],"mark":{"type":"point","shape":"circle","size":7,"filled":false,"stroke":"#222","strokeWidth":0.7},
   "encoding":{"x":{"field":"v","type":"quantitative","scale":{"domain":[1700,22500],"range":[478,570.3],"zero":false,"nice":false}},
    "yOffset":{"field":"g","type":"nominal","scale":{"domain":["Sham","INC"],"paddingInner":0.3,"paddingOuter":0.54}}}},
  {"data":{"name":"sig"},"transform":[{"filter":"datum.x >= 1600 && datum.s == '*'"}],"mark":{"type":"text","text":"*","font":"Liberation Sans","fontSize":12,"fontWeight":"bold","color":"#111","align":"center","baseline":"middle","dy":3.5},
   "encoding":{"x":{"field":"x","type":"quantitative","scale":{"domain":[1700,22500],"range":[478,570.3],"zero":false,"nice":false}}}},
  {"data":{"name":"sig"},"transform":[{"filter":"datum.x >= 1600 && datum.s == '**'"}],"mark":{"type":"text","text":["*","*"],"lineHeight":6.4,"font":"Liberation Sans","fontSize":12,"fontWeight":"bold","color":"#111","align":"center","baseline":"middle","dy":3.5},
   "encoding":{"x":{"field":"x","type":"quantitative","scale":{"domain":[1700,22500],"range":[478,570.3],"zero":false,"nice":false}}}}
 ]},
{"data":{"name":"thr"},"mark":{"type":"rule","color":"#222","strokeDash":[3,2.5],"strokeWidth":1.2,"yOffset":-42,"y2Offset":28},
 "encoding":{"x":{"field":"t","type":"quantitative","scale":{"domain":[0,1000],"range":[236,546],"zero":false,"nice":false},
  "axis":{"orient":"top","ticks":false,"tickSize":0,"domain":false,"grid":false,"values":[209.7,232,732,774],"labelExpr":"'/'","labelAngle":0,"labelAlign":"center","labelBaseline":"middle","labelPadding":0,"labelFont":"Liberation Sans","labelFontSize":13,"labelColor":"#444","labelOverlap":false,"labelFlush":false,"labelBound":false,
   "title":"threshold","titleAngle":45,"titleAlign":"right","titleBaseline":"bottom","titleX":244,"titleY":-36,"titleFont":"Liberation Sans","titleFontSize":11,"titleFontWeight":"normal","titleColor":"#222","zindex":1}}}},
{"data":{"name":"thr"},"mark":{"type":"rule","color":"#222","strokeDash":[3,2.5],"strokeWidth":1.2,"yOffset":-42,"y2Offset":28},
 "encoding":{"x":{"field":"t","type":"quantitative","scale":{"domain":[0,1000],"range":[236,546],"zero":false,"nice":false},
  "axis":{"orient":"bottom","ticks":false,"tickSize":0,"domain":false,"grid":false,"values":[209.7,232,732,774],"labelExpr":"'/'","labelAngle":0,"labelAlign":"center","labelBaseline":"middle","labelPadding":0,"labelFont":"Liberation Sans","labelFontSize":13,"labelColor":"#444","labelOverlap":false,"labelFlush":false,"labelBound":false,"title":null,"zindex":1}}}}
]
}
